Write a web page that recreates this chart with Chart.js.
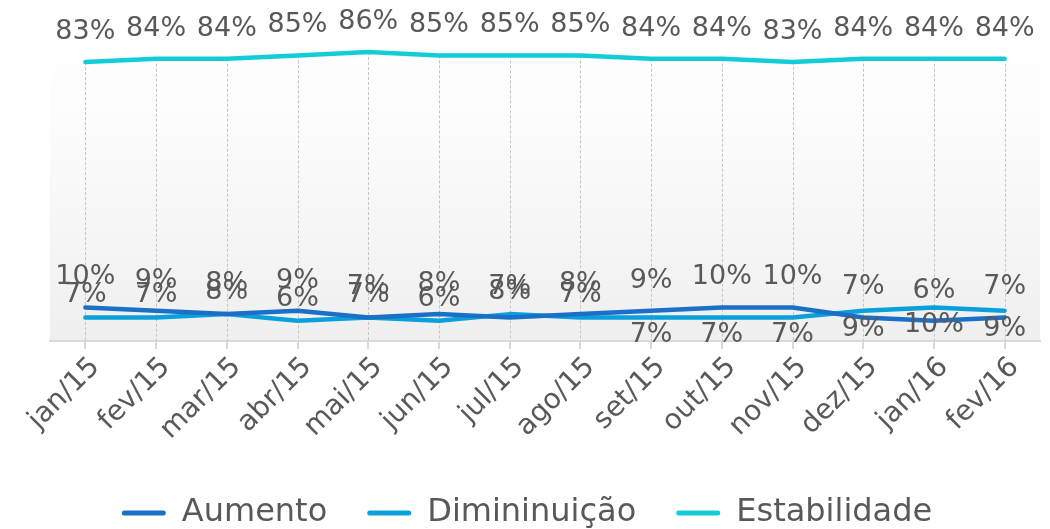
<!DOCTYPE html>
<html>
<head>
<meta charset="utf-8">
<script src="https://cdn.jsdelivr.net/npm/chart.js@4.4.1/dist/chart.umd.min.js"></script>
<style>
    body{margin:0;background:#fff}
    canvas{display:block}
</style>
</head>
<body>
<canvas id="myChart" width="1050" height="529"></canvas>
<script>
const months = ['jan/15','fev/15','mar/15','abr/15','mai/15','jun/15','jul/15','ago/15','set/15','out/15','nov/15','dez/15','jan/16','fev/16']
const aumento = [10, 9, 8, 9, 7, 8, 7, 8, 9, 10, 10, 7, 6, 7]
const diminuicao = [7, 7, 8, 6, 7, 6, 8, 7, 7, 7, 7, 9, 10, 9]
const estabilidade = [83, 84, 84, 85, 86, 85, 85, 85, 84, 84, 83, 84, 84, 84]

const textColor = '#595959'
const fontFamily = '"DejaVu Sans", Verdana, sans-serif'

// plot background: white on top fading to light grey
const plotBackground = {
    id: 'plotBackground',
    beforeDraw(chart){
        const {ctx, chartArea} = chart
        const g = ctx.createLinearGradient(0, chartArea.top, 0, chartArea.bottom)
        g.addColorStop(0, '#ffffff')
        g.addColorStop(0.3, '#fdfdfd')
        g.addColorStop(1, '#efefef')
        ctx.save()
        ctx.fillStyle = g
        ctx.fillRect(chartArea.left, chartArea.top, chartArea.right - chartArea.left, chartArea.bottom - chartArea.top)
        ctx.restore()
    }
}

// drop lines from the highest series down to the axis
const dropLines = {
    id: 'dropLines',
    beforeDatasetsDraw(chart){
        const {ctx, chartArea} = chart
        const meta = chart.getDatasetMeta(2)
        ctx.save()
        ctx.strokeStyle = '#c4c4c4'
        ctx.lineWidth = 1
        ctx.setLineDash([3, 2])
        meta.data.forEach(pt => {
            const x = Math.round(pt.x) + 0.5
            ctx.beginPath()
            ctx.moveTo(x, pt.y)
            ctx.lineTo(x, chartArea.bottom)
            ctx.stroke()
        })
        ctx.restore()
    }
}

// value labels
const valueLabels = {
    id: 'valueLabels',
    afterDatasetsDraw(chart){
        const {ctx} = chart
        ctx.save()
        ctx.font = `27px ${fontFamily}`
        ctx.fillStyle = textColor
        ctx.textAlign = 'center'
        ctx.textBaseline = 'middle'
        chart.data.datasets.forEach((ds, d) => {
            chart.getDatasetMeta(d).data.forEach((pt, i) => {
                let dy = -30
                if(d === 1) dy = i < 8 ? -22 : 18
                ctx.fillText(ds.data[i] + '%', pt.x, pt.y + dy)
            })
        })
        ctx.restore()
    }
}

const ctx = document.getElementById('myChart').getContext('2d')
new Chart(ctx, {
    type: 'line',
    data: {
        labels: months,
        datasets: [
            {label: 'Aumento', data: aumento, borderColor: '#1a6fc6', backgroundColor: '#1a6fc6'},
            {label: 'Dimininuição', data: diminuicao, borderColor: '#0aa0dc', backgroundColor: '#0aa0dc'},
            {label: 'Estabilidade', data: estabilidade, borderColor: '#12cdd8', backgroundColor: '#12cdd8'}
        ]
    },
    options: {
        responsive: false,
        animation: false,
        devicePixelRatio: 1,
        layout: {padding: {left: 14, right: 10, top: 5, bottom: -10}},
        elements: {
            line: {borderWidth: 4.5, tension: 0, borderCapStyle: 'round', borderJoinStyle: 'round'},
            point: {radius: 0, hoverRadius: 0}
        },
        scales: {
            x: {
                offset: true,
                grid: {display: true, drawOnChartArea: false, tickLength: 8, color: '#d9d9d9', lineWidth: 2},
                border: {display: true, color: '#d9d9d9', width: 2},
                ticks: {
                    minRotation: 45, maxRotation: 45, autoSkip: false, labelOffset: 10,
                    color: textColor, font: {family: fontFamily, size: 28}, padding: 2
                },
                afterFit(scale){
                    scale.height = 116
                    scale.paddingLeft = 50
                }
            },
            y: {display: false, min: 0, max: 100}
        },
        plugins: {
            legend: {
                position: 'bottom',
                labels: {
                    boxWidth: 44, boxHeight: 5, padding: 40,
                    color: textColor, font: {family: fontFamily, size: 32},
                    generateLabels: chart => Chart.defaults.plugins.legend.labels.generateLabels(chart)
                        .map(item => ({...item, lineWidth: 0, borderRadius: 2.5}))
                }
            },
            tooltip: {enabled: false}
        }
    },
    plugins: [plotBackground, dropLines, valueLabels]
})
</script>
</body>
</html>
